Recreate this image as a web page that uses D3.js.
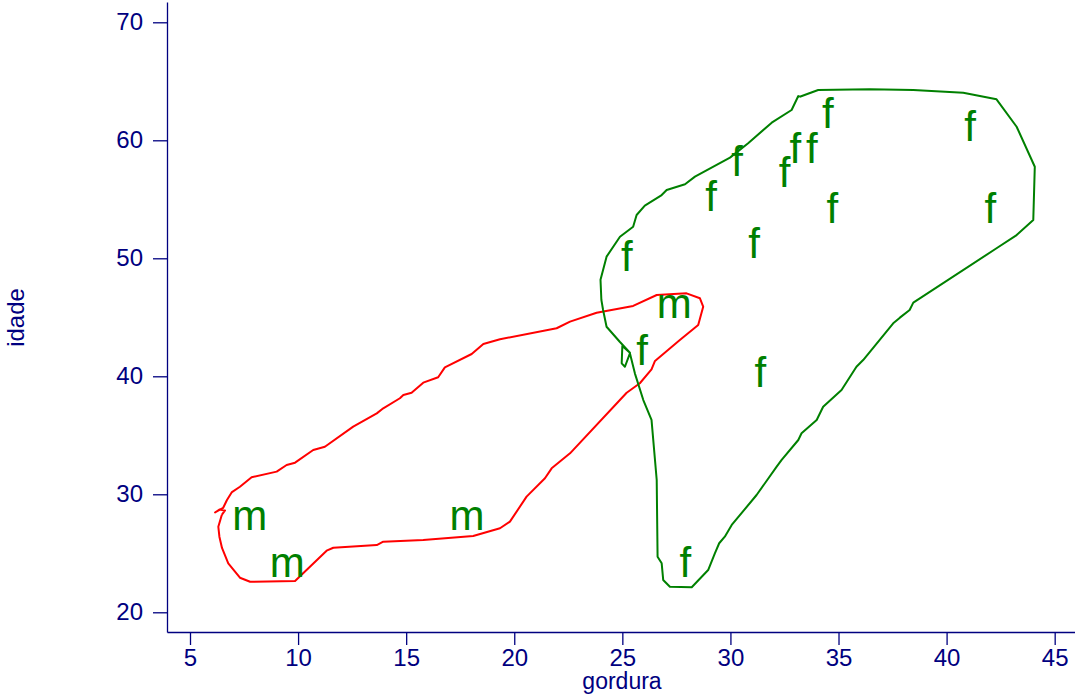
<!DOCTYPE html>
<html>
<head>
<meta charset="utf-8">
<script src="https://cdn.jsdelivr.net/npm/d3@7"></script>
<style>
  body { margin: 0; background: #fff; }
  svg { display: block; font-family: "Liberation Sans", Arial, Helvetica, sans-serif; }
</style>
</head>
<body>
<div id="chart"></div>
<script>
const width = 1075;
const height = 695;

// pontos: sexo, gordura, idade
const sexo = ["m", "m", "m", "m",
  "f", "f", "f", "f", "f", "f", "f", "f", "f", "f", "f", "f", "f", "f"];
const gordura = [7.76, 9.50, 17.81, 27.40,
  34.51, 41.09, 33.00, 33.77, 30.31, 32.50, 29.11, 34.72, 42.02, 31.10, 25.21, 25.91, 31.38, 27.91];
const idade = [28.22, 24.26, 28.22, 46.16,
  62.26, 61.21, 59.30, 59.30, 58.25, 57.26, 55.28, 54.26, 54.26, 51.25, 50.19, 42.20, 40.31, 24.26];

// contornos desenhados a mao (gordura, idade)
const contornoM = [
  [6.47, 28.25], [6.62, 28.63], [6.36, 28.71], [6.16, 28.46], [6.53, 28.84], [6.71, 29.52],
  [6.94, 30.19], [7.31, 30.64], [7.85, 31.44], [9.01, 31.92], [9.47, 32.48], [9.86, 32.68],
  [10.70, 33.75], [11.24, 34.03], [12.55, 35.73], [13.64, 36.86], [13.94, 37.29], [14.71, 38.14],
  [14.87, 38.42], [15.25, 38.61], [15.79, 39.46], [16.48, 39.92], [16.79, 40.76], [18.03, 41.89],
  [18.57, 42.74], [19.34, 43.14], [21.96, 44.07], [22.58, 44.63], [23.81, 45.39], [25.50, 45.96],
  [26.59, 46.89], [27.97, 47.03], [28.59, 46.61], [28.74, 45.90], [28.51, 44.35], [27.66, 43.08],
  [26.51, 41.30], [26.35, 40.59], [25.81, 39.41], [25.20, 38.61], [22.58, 33.47], [21.73, 32.20],
  [21.42, 31.36], [20.57, 29.80], [19.80, 27.68], [19.34, 27.12], [18.10, 26.47], [15.79, 26.13],
  [13.94, 25.98], [13.64, 25.70], [11.63, 25.47], [11.32, 25.22], [9.86, 22.65], [7.78, 22.59],
  [7.31, 22.93], [6.77, 24.15], [6.48, 25.45], [6.36, 26.41], [6.31, 27.25], [6.47, 28.25]
];
const contornoF = [
  [33.21, 63.69], [34.06, 64.26], [36.45, 64.32], [38.46, 64.26], [40.77, 64.03], [42.31, 63.47],
  [43.24, 61.15], [44.08, 57.76], [44.01, 53.25], [43.24, 51.97], [42.31, 50.85], [38.46, 46.24],
  [38.29, 45.62], [37.84, 44.97], [37.53, 44.49], [36.14, 41.38], [35.83, 40.81], [35.14, 38.84],
  [34.29, 37.42], [33.99, 36.30], [33.29, 35.17], [33.14, 34.60], [32.37, 32.91], [32.14, 32.34],
  [31.21, 29.94], [30.06, 27.40], [29.74, 26.41], [29.48, 25.85], [29.28, 25.00], [28.97, 23.58],
  [28.21, 22.12], [27.20, 22.17], [26.89, 22.74], [26.82, 24.15], [26.63, 24.71], [26.59, 31.21],
  [26.35, 36.30], [25.97, 37.99], [25.58, 40.25], [25.35, 41.95], [25.12, 40.81], [24.97, 41.10],
  [25.00, 42.57], [25.35, 42.00], [24.88, 42.93], [24.27, 44.20], [24.11, 45.62], [24.03, 46.47],
  [23.99, 48.18], [24.27, 50.14], [24.89, 51.83], [25.50, 52.68], [25.66, 53.67], [26.04, 54.46],
  [26.82, 55.36], [27.05, 55.79], [27.90, 56.27], [28.36, 56.92], [29.98, 58.53], [30.82, 59.75],
  [31.91, 61.49], [32.83, 62.57], [33.14, 63.75], [33.21, 63.69]
];

const xTicks = [5, 10, 15, 20, 25, 30, 35, 40, 45];
const yTicks = [20, 30, 40, 50, 60, 70];

const navy = "#000080";

const svg = d3.select("#chart")
    .append("svg")
    .attr("width", width)
    .attr("height", height);

const x = d3.scaleLinear()
    .domain([3.936, 45.94])
    .range([167, 1075]);

const y = d3.scaleLinear()
    .domain([18.33, 71.72])
    .range([632, 2]);

// eixo x
const gx = svg.append("g")
    .attr("transform", "translate(0,632)")
    .call(d3.axisBottom(x).tickValues(xTicks).tickSize(13).tickSizeOuter(0).tickPadding(4));

// eixo y
const gy = svg.append("g")
    .attr("transform", "translate(167,0)")
    .call(d3.axisLeft(y).tickValues(yTicks).tickSize(14).tickSizeOuter(0).tickPadding(10));

[gx, gy].forEach(g => {
    g.selectAll("path, line").attr("stroke", navy).attr("stroke-width", 1.3);
    g.selectAll("text").attr("fill", navy).style("font-size", "24px");
});

// titulos dos eixos
svg.append("text")
    .attr("x", 622)
    .attr("y", 689)
    .attr("text-anchor", "middle")
    .attr("fill", navy)
    .style("font-size", "23px")
    .text("gordura");

svg.append("text")
    .attr("transform", "translate(24,317.5) rotate(-90)")
    .attr("text-anchor", "middle")
    .attr("fill", navy)
    .style("font-size", "24px")
    .text("idade");

// contornos
const line = d3.line()
    .x(d => x(d[0]))
    .y(d => y(d[1]));

svg.append("path")
    .attr("d", line(contornoM))
    .attr("fill", "none")
    .attr("stroke", "#ff0000")
    .attr("stroke-width", 2)
    .attr("stroke-linejoin", "round");

svg.append("path")
    .attr("d", line(contornoF))
    .attr("fill", "none")
    .attr("stroke", "#008000")
    .attr("stroke-width", 2)
    .attr("stroke-linejoin", "round");

// rotulos dos pontos
svg.append("g")
    .selectAll("text")
    .data(sexo)
    .enter()
    .append("text")
    .attr("x", (d, i) => x(gordura[i]))
    .attr("y", (d, i) => y(idade[i]))
    .attr("dy", "0.35em")
    .attr("text-anchor", "middle")
    .attr("fill", "#008000")
    .style("font-size", "42px")
    .text(d => d);
</script>
</body>
</html>
